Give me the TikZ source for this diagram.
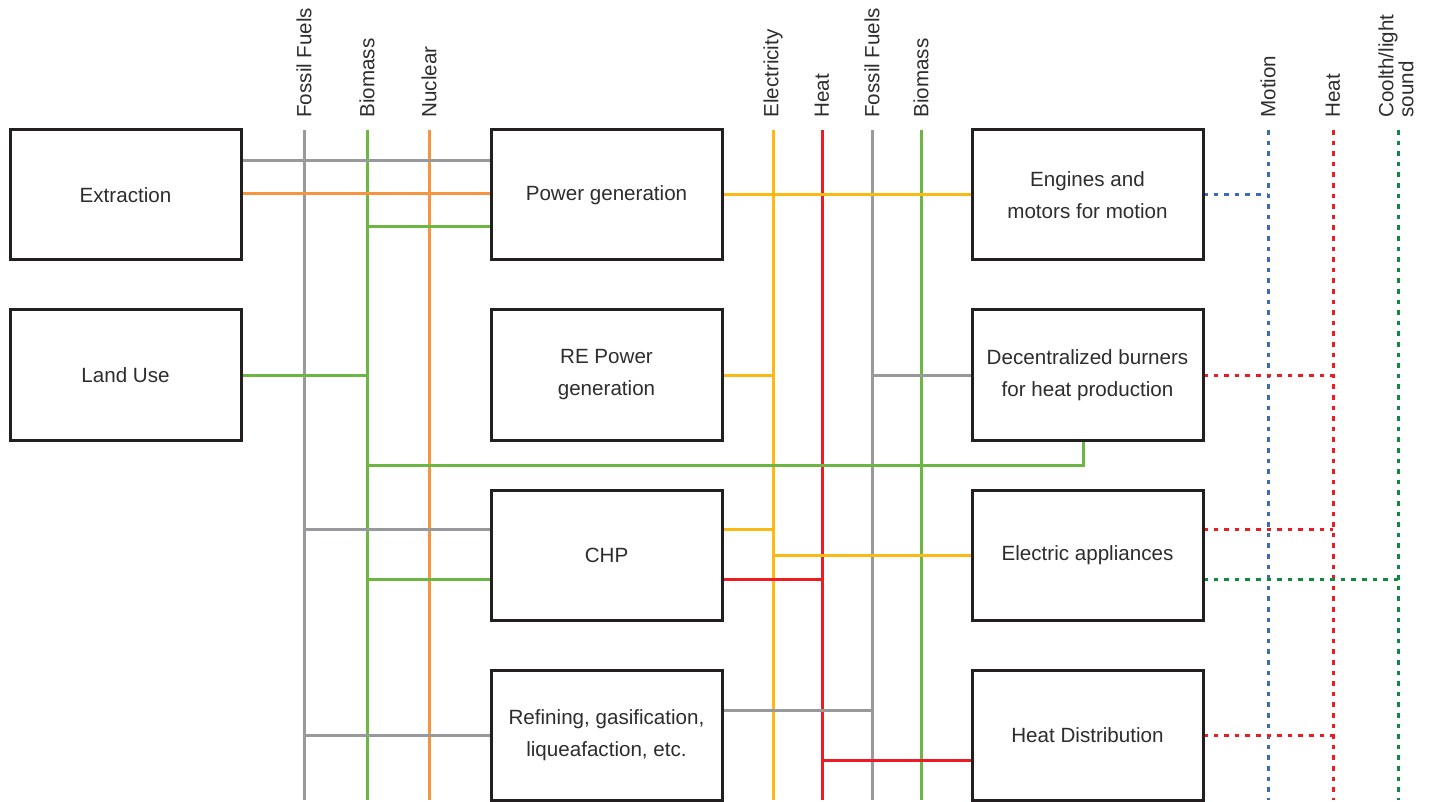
\documentclass[tikz,border=0pt]{standalone}
\usepackage{fontspec}
\setmainfont{Liberation Sans}
\usetikzlibrary{positioning,backgrounds}

\definecolor{ffgray}{RGB}{152,153,157}
\definecolor{bmgreen}{RGB}{108,182,67}
\definecolor{nucorange}{RGB}{247,148,63}
\definecolor{elyellow}{RGB}{253,185,19}
\definecolor{htred}{RGB}{237,28,36}
\definecolor{motblue}{RGB}{61,106,181}
\definecolor{cooldgreen}{RGB}{14,138,62}
\definecolor{boxline}{RGB}{35,31,32}
\definecolor{txt}{RGB}{45,45,45}

\tikzset{
  box/.style={draw=boxline, line width=1.5pt, fill=white, minimum width=115.5pt, minimum height=65pt, align=center, inner sep=0pt, outer sep=0pt},
  lbl/.style={rotate=90, anchor=west, align=left, inner sep=0pt},
  grayline/.style={draw=ffgray, line width=1.5pt},
  greenline/.style={draw=bmgreen, line width=1.5pt},
  orangeline/.style={draw=nucorange, line width=1.5pt},
  yellowline/.style={draw=elyellow, line width=1.5pt},
  redline/.style={draw=htred, line width=1.5pt},
  bluedot/.style={draw=motblue, line width=1.5pt, dash pattern=on 2.3pt off 3pt},
  reddot/.style={draw=htred, line width=1.5pt, dash pattern=on 2.3pt off 3pt},
  greendot/.style={draw=cooldgreen, line width=1.5pt, dash pattern=on 2.3pt off 3pt}
}

\begin{document}
\begin{tikzpicture}[x=0.5pt, y=-0.5pt, node distance=25pt and 125pt, every node/.style={font=\fontsize{10.3}{16}\selectfont, text=txt}]
  \useasboundingbox (0,0) rectangle (1430,802);

  % sources
  \node[box] (ext) at (125.5,195) {Extraction};
  \node[box, below=of ext] (land) {Land Use};
  % conversion
  \node[box, right=of ext] (pow) {Power generation};
  \node[box, below=of pow] (repow) {RE Power\\generation};
  \node[box, below=of repow] (chp) {CHP};
  \node[box, below=of chp] (refin) {Refining, gasification,\\liqueafaction, etc.};
  % end use
  \node[box, right=of pow] (eng) {Engines and\\motors for motion};
  \node[box, below=of eng] (burn) {Decentralized burners\\for heat production};
  \node[box, below=of burn] (appl) {Electric appliances};
  \node[box, below=of appl] (heatd) {Heat Distribution};

  % carrier buses with their labels
  \foreach \n/\x/\s/\t in {ffl/304/grayline/Fossil Fuels, bml/367/greenline/Biomass, nuc/429/orangeline/Nuclear,
      ele/773/yellowline/Electricity, hot/822/redline/Heat, ffr/872/grayline/Fossil Fuels, bmr/921/greenline/Biomass,
      mot/1268/bluedot/Motion, hto/1333/reddot/Heat, coo/1396/greendot/{Coolth/light\\[-6pt]sound}} {
    \coordinate (\n) at (\x,130);
    \coordinate (\n-b) at (\x,800);
    \node[lbl] (\n-lab) at ([yshift=6pt]\n) {\t};
  }

  \begin{scope}[on background layer]
    \foreach \n/\s in {ffl/grayline, bml/greenline, nuc/orangeline, ele/yellowline, hot/redline,
        ffr/grayline, bmr/greenline, mot/bluedot, hto/reddot}
      \draw[\s] (\n) -- (\n-b);
    \draw[greendot] ([xshift=1pt]coo) -- ([xshift=1pt]coo-b);

    % row 1
    \draw[grayline] (ext.east |- 0,161) -- (pow.west |- 0,161);
    \draw[orangeline] (ext.east |- 0,194) -- (pow.west |- 0,194);
    \draw[greenline] (bml |- 0,227) -- (pow.west |- 0,227);
    \draw[yellowline] (pow.east) -- (eng.west);
    \draw[bluedot] (eng.east) -- (mot |- eng.east);
    % row 2
    \draw[greenline] (land.east) -- (bml |- land.east);
    \draw[yellowline] (repow.east) -- (ele |- repow.east);
    \draw[grayline] (ffr |- burn.west) -- (burn.west);
    \draw[reddot] (burn.east) -- (hto |- burn.east);
    \draw[greenline] (bml |- 0,465) -| ([xshift=-2.25pt]burn.south);
    % row 3
    \draw[grayline] (ffl |- 0,529) -- (chp.west |- 0,529);
    \draw[greenline] (bml |- 0,579) -- (chp.west |- 0,579);
    \draw[yellowline] (chp.east |- 0,529) -- (ele |- 0,529);
    \draw[redline] (chp.east |- 0,579) -- (hot |- 0,579);
    \draw[yellowline] (ele |- appl.west) -- (appl.west);
    \draw[reddot] (appl.east |- 0,529) -- (hto |- 0,529);
    \draw[greendot] (appl.east |- 0,579) -- ([xshift=1pt]coo |- 0,579);
    % row 4
    \draw[grayline] (ffl |- refin.west) -- (refin.west);
    \draw[grayline] (refin.east |- 0,710) -- (ffr |- 0,710);
    \draw[redline] (hot |- 0,760) -- (heatd.west |- 0,760);
    \draw[reddot] (heatd.east) -- (hto |- heatd.east);
  \end{scope}
\end{tikzpicture}
\end{document}
